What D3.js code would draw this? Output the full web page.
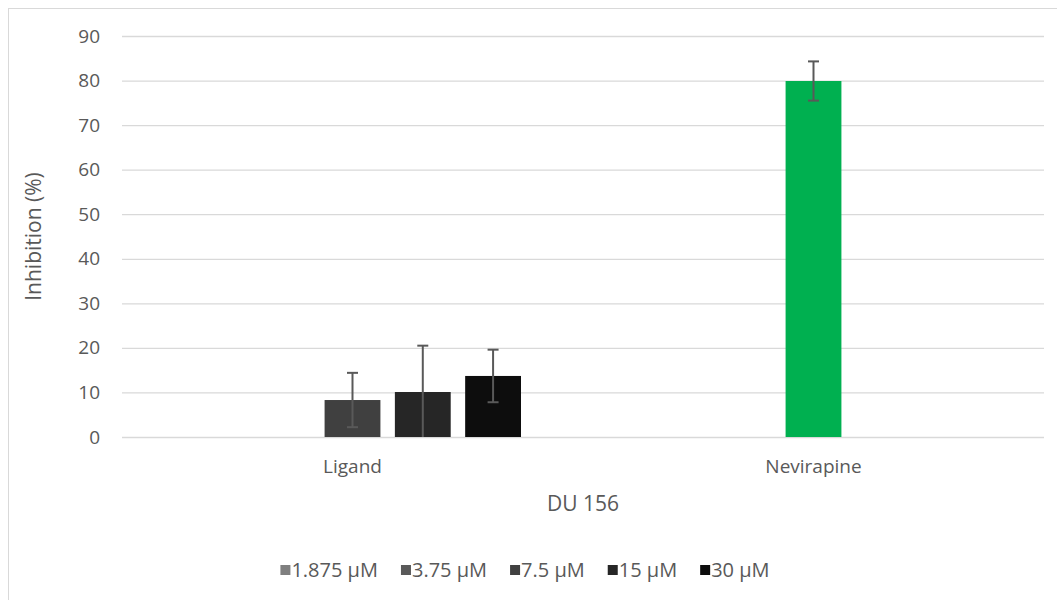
<!DOCTYPE html>
<html>
<head>
<meta charset="utf-8">
<script src="https://cdn.jsdelivr.net/npm/d3@7"></script>
<style>
  html, body { margin: 0; padding: 0; background: #fff; }
  svg { display: block; font-family: "Open Sans", sans-serif; }
</style>
</head>
<body>
<svg id="chart" width="1057" height="600"></svg>
<script>
// ---- data ----
const categories = ["Ligand", "Nevirapine"];
const seriesNames = ["1.875 µM", "3.75 µM", "7.5 µM", "15 µM", "30 µM"];
const seriesColors = ["#7f7f7f", "#595959", "#404040", "#262626", "#0d0d0d"];
// values per series, one per category (null = no bar)
const s1875 = [null, null];
const s375 = [null, null];
const s75 = [8.3, 79.9];
const s15 = [10.1, null];
const s30 = [13.7, null];
// error (±) per series
const e1875 = [null, null];
const e375 = [null, null];
const e75 = [6.1, 4.4];
const e15 = [10.4, null];
const e30 = [5.9, null];
// per-point colour override (Nevirapine bar shown in green)
const pointColorOverride = { "7.5 µM|Nevirapine": "#00b050" };
const yTicks = [0, 10, 20, 30, 40, 50, 60, 70, 80, 90];
const xTitle = "DU 156";
const yTitle = "Inhibition (%)";

const seriesValues = [s1875, s375, s75, s15, s30];
const seriesErrors = [e1875, e375, e75, e15, e30];

// ---- layout ----
const svg = d3.select("#chart");
const plot = { left: 122, right: 1044, top: 36, bottom: 437 };

// chart frame
svg.append("rect")
  .attr("x", 8.5).attr("y", 8.5)
  .attr("width", 1100).attr("height", 700)
  .attr("fill", "#fff").attr("stroke", "#d9d9d9").attr("stroke-width", 1);

const y = d3.scaleLinear().domain([0, 90]).range([plot.bottom, plot.top]);
const x0 = d3.scaleBand().domain(categories)
  .range([plot.left, plot.right])
  .paddingInner(0.269).paddingOuter(0.1345);
const x1 = d3.scaleBand().domain(seriesNames)
  .range([0, x0.bandwidth()])
  .paddingInner(0.2057).paddingOuter(0);

// gridlines via axis
const yAxis = d3.axisLeft(y).tickValues(yTicks)
  .tickSize(-(plot.right - plot.left)).tickPadding(22).tickFormat(d3.format("d"));
const gy = svg.append("g")
  .attr("transform", `translate(${plot.left},0)`)
  .call(yAxis);
gy.select(".domain").remove();
gy.selectAll(".tick line").attr("stroke", "#d9d9d9").attr("stroke-width", 1.3);
gy.selectAll(".tick text")
  .attr("fill", "#595959").attr("font-size", "19px")
  .attr("font-family", "Open Sans, sans-serif");

// category axis labels
const xAxis = d3.axisBottom(x0).tickSize(0).tickPadding(0);
const gx = svg.append("g")
  .attr("transform", `translate(0,${plot.bottom})`)
  .call(xAxis);
gx.select(".domain").remove();
gx.selectAll(".tick text")
  .attr("fill", "#595959").attr("font-size", "19px")
  .attr("font-family", "Open Sans, sans-serif")
  .attr("dy", null).attr("y", 36);

// bars
const points = [];
seriesNames.forEach((s, si) => {
  categories.forEach((c, ci) => {
    const v = seriesValues[si][ci];
    if (v == null) return;
    points.push({
      series: s, cat: c, value: v, err: seriesErrors[si][ci],
      color: pointColorOverride[s + "|" + c] || seriesColors[si]
    });
  });
});

svg.append("defs").append("clipPath").attr("id", "plotclip")
  .append("rect")
  .attr("x", plot.left).attr("y", plot.top - 20)
  .attr("width", plot.right - plot.left).attr("height", plot.bottom - plot.top + 20);

const gBars = svg.append("g");
gBars.selectAll("rect.bar").data(points).join("rect")
  .attr("class", "bar")
  .attr("x", d => x0(d.cat) + x1(d.series))
  .attr("width", x1.bandwidth())
  .attr("y", d => y(d.value))
  .attr("height", d => y(0) - y(d.value))
  .attr("fill", d => d.color);

// error bars
const gErr = svg.append("g").attr("clip-path", "url(#plotclip)")
  .attr("stroke", "#595959").attr("stroke-width", 2).attr("fill", "none");
const capW = 11;
points.filter(d => d.err != null).forEach(d => {
  const cx = x0(d.cat) + x1(d.series) + x1.bandwidth() / 2;
  const hi = y(d.value + d.err), lo = y(d.value - d.err);
  gErr.append("line").attr("x1", cx).attr("x2", cx).attr("y1", hi).attr("y2", lo);
  gErr.append("line").attr("x1", cx - capW / 2).attr("x2", cx + capW / 2).attr("y1", hi).attr("y2", hi);
  gErr.append("line").attr("x1", cx - capW / 2).attr("x2", cx + capW / 2).attr("y1", lo).attr("y2", lo);
});

// axis titles
svg.append("text")
  .attr("x", (plot.left + plot.right) / 2).attr("y", 511)
  .attr("text-anchor", "middle").attr("fill", "#595959")
  .attr("font-size", "21px").text(xTitle);
svg.append("text")
  .attr("transform", `translate(41,${(plot.top + plot.bottom) / 2}) rotate(-90)`)
  .attr("text-anchor", "middle").attr("fill", "#595959")
  .attr("font-size", "21px").text(yTitle);

// legend
const gLeg = svg.append("g");
const items = gLeg.selectAll("g.item").data(seriesNames).join("g").attr("class", "item");
items.append("rect").attr("width", 10).attr("height", 10).attr("y", -12)
  .attr("fill", (d, i) => seriesColors[i]);
items.append("text").attr("x", 11).attr("y", 0)
  .attr("fill", "#595959").attr("font-size", "20px").text(d => d);
let cursor = 0;
const gap = 23;
items.each(function () {
  const w = 11 + d3.select(this).select("text").node().getComputedTextLength();
  d3.select(this).attr("transform", `translate(${cursor},0)`);
  cursor += w + gap;
});
const legW = cursor - gap;
gLeg.attr("transform", `translate(${525 - legW / 2},577)`);
</script>
</body>
</html>
